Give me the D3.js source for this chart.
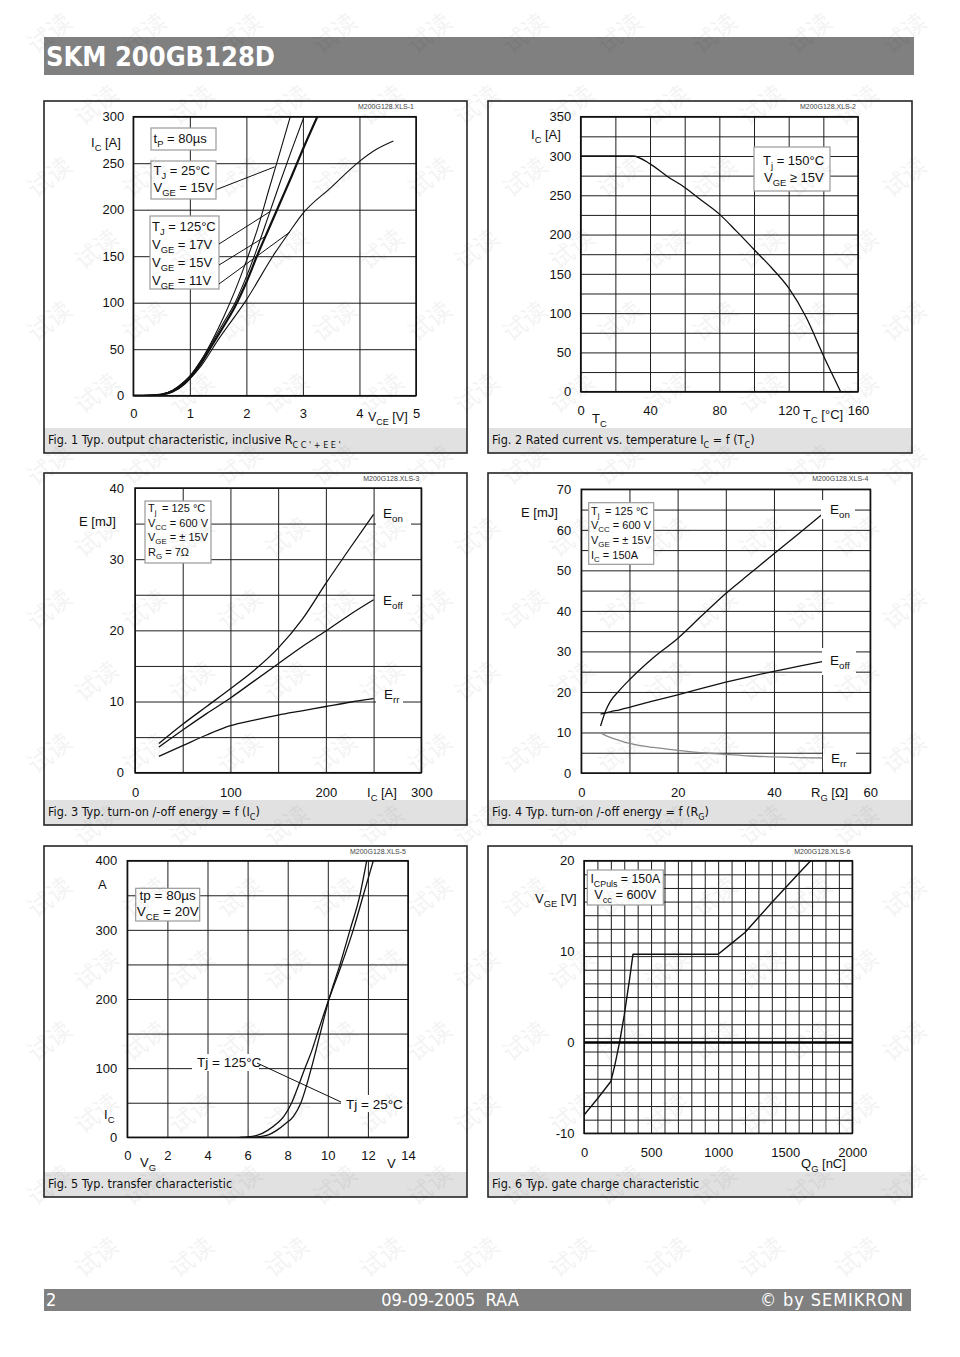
<!DOCTYPE html>
<html><head><meta charset="utf-8">
<script src="https://cdn.jsdelivr.net/npm/d3@7/dist/d3.min.js"></script>
<style>body{margin:0;background:#fff}svg{display:block}</style>
</head><body>
<svg id="page" width="960" height="1357"></svg>
<script>
// ================= DATA =================
// Fig 1: output characteristic  IC = f(VCE)
const fig1XTicks = [0, 1, 2, 3, 4, 5];
const fig1YTicks = [0, 50, 100, 150, 200, 250, 300];
const f1_vce_25_15  = [0, 0.3, 0.5, 0.7, 0.9, 1.0, 1.2, 1.4, 1.6, 1.8, 2.0, 2.2, 2.4, 2.6, 2.8];
const f1_ic_25_15   = [0, 0.3, 1.5, 6, 15, 21, 38, 60, 85, 113, 145, 180, 222, 263, 305];
const f1_vce_125_17 = [0, 0.3, 0.5, 0.7, 0.9, 1.0, 1.2, 1.4, 1.6, 1.8, 2.0, 2.2, 2.4, 2.6, 2.8, 3.05];
const f1_ic_125_17  = [0, 0.3, 1.5, 6, 15, 21, 38, 58, 79, 100, 128, 160, 195, 230, 264, 305];
const f1_vce_125_15 = [0, 0.3, 0.5, 0.7, 0.9, 1.0, 1.2, 1.4, 1.6, 1.8, 2.0, 2.2, 2.4, 2.6, 2.8, 3.0, 3.27];
const f1_ic_125_15  = [0, 0.3, 1.2, 5, 13, 19, 35, 55, 75, 96, 122, 152, 180, 208, 236, 265, 302];
const f1_vce_125_11 = [0, 0.3, 0.5, 0.7, 0.9, 1.0, 1.2, 1.5, 2.0, 2.5, 2.75, 3.0, 3.5, 4.0, 4.3, 4.6];
const f1_ic_125_11  = [0, 0.2, 1, 4, 12, 18, 32, 60, 103, 153, 175, 196, 224, 252, 265, 274];

// Fig 2: rated current vs case temperature
const fig2XTicks = [0, 40, 80, 120, 160];
const fig2YTicks = [0, 50, 100, 150, 200, 250, 300, 350];
const f2_tc = [0, 30, 40, 50, 60, 70, 80, 90, 100, 110, 120, 130, 140, 150];
const f2_ic = [300, 300, 290, 274, 260, 243, 226, 204, 181, 158, 132, 95, 46, 0];

// Fig 3: switching energy vs IC
const fig3XTicks = [0, 100, 200, 300];
const fig3YTicks = [0, 10, 20, 30, 40];
const f3_ic   = [25, 50, 75, 100, 125, 150, 175, 200, 225, 250];
const f3_eon  = [4.1, 6.8, 9.3, 11.8, 14.4, 17.5, 21.5, 26.6, 31.5, 36.3];
const f3_eoff = [3.6, 6.0, 8.3, 10.5, 12.9, 15.3, 17.7, 19.9, 22.2, 24.3];
const f3_err  = [2.3, 3.8, 5.3, 6.6, 7.4, 8.1, 8.7, 9.3, 9.9, 10.4];

// Fig 4: switching energy vs RG
const fig4XTicks = [0, 20, 40, 60];
const fig4YTicks = [0, 10, 20, 30, 40, 50, 60, 70];
const f4_rg   = [4, 5, 6, 8, 10, 15, 20, 25, 30, 35, 40, 45, 50];
const f4_eon  = [11.6, 15.2, 17.6, 20.5, 23.0, 28.5, 33.2, 38.8, 44.3, 49.2, 54.1, 58.9, 63.8];
const f4_eoff = [14.5, 14.8, 15.1, 15.6, 16.2, 17.8, 19.3, 20.9, 22.4, 23.8, 25.1, 26.3, 27.5];
const f4_err  = [9.9, 9.3, 8.8, 8.0, 7.3, 6.3, 5.6, 5.0, 4.6, 4.2, 4.0, 3.8, 3.7];

// Fig 5: transfer characteristic
const fig5XTicks = [0, 2, 4, 6, 8, 10, 12, 14];
const fig5YTicks = [0, 100, 200, 300, 400];
const f5_vg_125 = [5.6, 6.0, 6.5, 7.0, 7.5, 7.8, 8.2, 8.5, 8.86, 9.2, 9.48, 10.06, 10.69, 11.27, 11.77, 12.27];
const f5_ic_125 = [0, 0.5, 3, 10, 21, 30, 50, 72, 100, 125, 150, 200, 250, 300, 350, 400];
const f5_vg_25  = [6.0, 6.5, 7.0, 7.45, 7.9, 8.28, 8.66, 9.18, 9.62, 10.06, 10.61, 11.11, 11.6, 11.94];
const f5_ic_25  = [0, 0.5, 3, 10, 20, 30, 50, 100, 150, 200, 250, 300, 350, 400];

// Fig 6: gate charge
const fig6XTicks = [0, 500, 1000, 1500, 2000];
const fig6YTicks = [-10, 0, 10, 20];
const f6_qg  = [0, 100, 200, 230, 265, 300, 340, 365, 1000, 1100, 1200, 1300, 1400, 1500, 1600, 1690];
const f6_vge = [-8, -6.2, -4.3, -2.5, 0, 3, 7, 9.7, 9.7, 10.9, 12.1, 13.75, 15.4, 17.0, 18.6, 20];

// ================= DRAWING =================
const SANS = "'Liberation Sans', Arial, sans-serif";
const COND = "'DejaVu Sans Condensed', 'DejaVu Sans', sans-serif";
const svg = d3.select('#page');
const plainFmt = d => String(d);

function rich(g, x, y, str, o = {}) {
  const size = o.size || 13;
  const t = g.append('text').attr('x', x).attr('y', y)
    .attr('font-size', size).attr('font-family', o.font || SANS)
    .attr('fill', o.fill || '#111').attr('text-anchor', o.anchor || 'start');
  if (o.weight) t.attr('font-weight', o.weight);
  if (o.ls != null) t.attr('letter-spacing', o.ls);
  const tokens = str.split(/(_\{[^}]*\})/).filter(s => s.length);
  let down = 0; const sh = size * 0.3;
  tokens.forEach(tok => {
    if (tok.startsWith('_{')) {
      t.append('tspan').attr('dy', sh - down).attr('font-size', size * 0.72).text(tok.slice(2, -1));
      down = sh;
    } else {
      t.append('tspan').attr('dy', -down).text(tok);
      down = 0;
    }
  });
  return t;
}

let clipId = 0;
function chart(c) {
  const g = svg.append('g');
  const [bx, by, bw, bh] = c.box;
  const [px0, px1, py0, py1] = c.plot;
  g.append('rect').attr('x', bx).attr('y', by).attr('width', bw).attr('height', bh).attr('fill', '#fff');
  g.append('rect').attr('x', bx).attr('y', c.capTop).attr('width', bw).attr('height', by + bh - c.capTop).attr('fill', '#e1e1e1');
  const grid = g.append('g'), mid = g.append('g'), top = g.append('g');
  const x = d3.scaleLinear().domain(c.xDomain).range([px0, px1]);
  const y = d3.scaleLinear().domain(c.yDomain).range([py1, py0]);
  const W = px1 - px0, H = py1 - py0;
  const gx = grid.append('g').attr('transform', `translate(0,${py1})`)
    .call(d3.axisBottom(x).tickValues(c.gridX).tickSize(-H).tickFormat(''));
  const gy = grid.append('g').attr('transform', `translate(${px0},0)`)
    .call(d3.axisLeft(y).tickValues(c.gridY).tickSize(-W).tickFormat(''));
  [gx, gy].forEach(a => {
    a.select('.domain').remove();
    a.selectAll('line').attr('stroke', '#1e1e1e').attr('stroke-width', 1);
  });
  const id = 'clip' + (clipId++);
  svg.append('clipPath').attr('id', id).append('rect').attr('x', px0).attr('y', py0).attr('width', W).attr('height', H);
  const curves = mid.append('g').attr('clip-path', `url(#${id})`);
  top.append('rect').attr('x', px0).attr('y', py0).attr('width', W).attr('height', H)
    .attr('fill', 'none').attr('stroke', '#111').attr('stroke-width', 1.5);
  const tx = top.append('g').attr('transform', `translate(0,${py1})`)
    .call(d3.axisBottom(x).tickValues(c.tickX).tickSize(0).tickPadding(c.padX).tickFormat(plainFmt));
  const ty = top.append('g').attr('transform', `translate(${px0},0)`)
    .call(d3.axisLeft(y).tickValues(c.tickY).tickSize(0).tickPadding(c.padY).tickFormat(plainFmt));
  [tx, ty].forEach(a => {
    a.select('.domain').remove();
    a.selectAll('text').attr('font-family', SANS).attr('font-size', 13).attr('fill', '#111');
  });
  top.append('rect').attr('x', bx).attr('y', by).attr('width', bw).attr('height', bh)
    .attr('fill', 'none').attr('stroke', '#262626').attr('stroke-width', 1.6);
  top.append('text').attr('x', px1 - 2).attr('y', by + 7.5).attr('text-anchor', 'end')
    .attr('font-family', SANS).attr('font-size', 7).attr('fill', '#444').text(c.code);
  rich(top, bx + 4, c.capBase, c.caption, { size: 12.5, font: COND, fill: '#111', ls: 0 });
  return { g, grid, mid, top, curves, x, y };
}

function line(ch, xs, ys, curve, stroke, width) {
  const pts = d3.zip(xs, ys);
  ch.curves.append('path').datum(pts)
    .attr('d', d3.line().x(d => ch.x(d[0])).y(d => ch.y(d[1])).curve(curve))
    .attr('fill', 'none').attr('stroke', stroke).attr('stroke-width', width)
    .attr('stroke-linejoin', 'round');
}
function legendBox(layer, x, y, w, h) {
  layer.append('rect').attr('x', x).attr('y', y).attr('width', w).attr('height', h)
    .attr('fill', '#fff').attr('stroke', '#9a9a9a').attr('stroke-width', 1.2);
}
function whiteRect(layer, x, y, w, h) {
  layer.append('rect').attr('x', x).attr('y', y).attr('width', w).attr('height', h).attr('fill', '#fff');
}
function leader(layer, x1, y1, x2, y2) {
  layer.append('line').attr('x1', x1).attr('y1', y1).attr('x2', x2).attr('y2', y2)
    .attr('stroke', '#111').attr('stroke-width', 1);
}

// ---------- Header / footer ----------
svg.append('rect').attr('x', 44).attr('y', 37).attr('width', 870).attr('height', 38).attr('fill', '#808080');
svg.append('text').attr('x', 46).attr('y', 66).attr('font-family', COND).attr('font-weight', 'bold')
  .attr('font-size', 27).attr('fill', '#fff').text('SKM 200GB128D');
svg.append('rect').attr('x', 44).attr('y', 1289).attr('width', 867).attr('height', 22).attr('fill', '#808080');
svg.append('text').attr('x', 46).attr('y', 1306).attr('font-family', COND).attr('font-size', 18).attr('fill', '#fff').text('2');
svg.append('text').attr('x', 450).attr('y', 1306).attr('font-family', COND).attr('font-size', 18).attr('fill', '#fff')
  .attr('text-anchor', 'middle').attr('xml:space', 'preserve').text('09-09-2005  RAA');
svg.append('text').attr('x', 904).attr('y', 1306).attr('font-family', COND).attr('font-size', 18).attr('fill', '#fff')
  .attr('text-anchor', 'end').attr('letter-spacing', 0.9).text('© by SEMIKRON');

// ---------- Fig 1 ----------
const c1 = chart({
  box: [44, 101, 423, 352], plot: [133.3, 416, 116.7, 395.7], capTop: 428, capBase: 444,
  xDomain: [0, 5], yDomain: [0, 300], gridX: fig1XTicks, gridY: fig1YTicks,
  tickX: fig1XTicks, tickY: fig1YTicks, padX: 13, padY: 9,
  code: 'M200G128.XLS-1', caption: "Fig. 1 Typ. output characteristic, inclusive R_{C C ' + E E '}"
});
line(c1, f1_vce_25_15, f1_ic_25_15, d3.curveMonotoneX, '#111', 1.1);
line(c1, f1_vce_125_17, f1_ic_125_17, d3.curveMonotoneX, '#111', 1.1);
line(c1, f1_vce_125_15, f1_ic_125_15, d3.curveMonotoneX, '#111', 2.2);
line(c1, f1_vce_125_11, f1_ic_125_11, d3.curveMonotoneX, '#111', 1.1);
legendBox(c1.mid, 151, 128, 65, 22);
legendBox(c1.mid, 151, 161, 65, 38);
legendBox(c1.mid, 150, 216, 69, 73);
rich(c1.mid, 153.5, 143, 't_{P} = 80µs');
rich(c1.mid, 153.5, 175, 'T_{J} = 25°C');
rich(c1.mid, 153.5, 192, 'V_{GE} = 15V');
rich(c1.mid, 152, 231, 'T_{J} = 125°C');
rich(c1.mid, 152, 249, 'V_{GE} = 17V');
rich(c1.mid, 152, 267, 'V_{GE} = 15V');
rich(c1.mid, 152, 285, 'V_{GE} = 11V');
leader(c1.mid, 216.5, 189.5, c1.x(2.5), c1.y(246));
leader(c1.mid, 219, 244, c1.x(2.42), c1.y(198));
leader(c1.mid, 219, 265, c1.x(2.33), c1.y(171));
leader(c1.mid, 219, 284, c1.x(2.77), c1.y(176));
rich(c1.top, 91, 147, 'I_{C} [A]');
rich(c1.top, 368, 421, 'V_{CE} [V]', { size: 12.5 });

// ---------- Fig 2 ----------
const c2 = chart({
  box: [488, 101, 424, 352], plot: [580.7, 858, 116.7, 391.7], capTop: 428, capBase: 444,
  xDomain: [0, 160], yDomain: [0, 350], gridX: d3.range(0, 161, 20), gridY: d3.range(0, 351, 25),
  tickX: fig2XTicks, tickY: fig2YTicks, padX: 14, padY: 9.5,
  code: 'M200G128.XLS-2', caption: 'Fig. 2 Rated current vs. temperature I_{C} = f (T_{C})'
});
line(c2, f2_tc, f2_ic, d3.curveMonotoneX, '#111', 1.3);
legendBox(c2.mid, 754, 147, 76, 44);
rich(c2.mid, 763, 165, 'T_{j} = 150°C');
rich(c2.mid, 764, 182, 'V_{GE} ≥ 15V');
rich(c2.top, 531, 139, 'I_{C} [A]');
rich(c2.top, 592, 423, 'T_{C}');
rich(c2.top, 803, 419, 'T_{C} [°C]');

// ---------- Fig 3 ----------
const c3 = chart({
  box: [44, 473, 423, 352], plot: [135, 421.3, 488, 772.7], capTop: 800, capBase: 816,
  xDomain: [0, 300], yDomain: [0, 40], gridX: d3.range(0, 301, 50), gridY: d3.range(0, 41, 5),
  tickX: fig3XTicks, tickY: fig3YTicks, padX: 15, padY: 11,
  code: 'M200G128.XLS-3', caption: 'Fig. 3 Typ. turn-on /-off energy = f (I_{C})'
});
whiteRect(c3.mid, 376, 505, 35, 21);
whiteRect(c3.mid, 375, 592, 37, 19);
whiteRect(c3.mid, 376, 686, 27, 19);
line(c3, f3_ic, f3_eon, d3.curveMonotoneX, '#111', 1.3);
line(c3, f3_ic, f3_eoff, d3.curveMonotoneX, '#111', 1.3);
line(c3, f3_ic, f3_err, d3.curveMonotoneX, '#111', 1.3);
legendBox(c3.mid, 145, 501, 66, 62);
[['T_{j}', '= 125 °C', 512], ['V_{CC} = 600 V', null, 527], ['V_{GE} = ± 15V', null, 541], ['R_{G} = 7Ω', null, 556]]
  .forEach(([a, b, yy]) => { rich(c3.mid, 148, yy, a, { size: 11 }); if (b) rich(c3.mid, 162, yy, b, { size: 11 }); });
rich(c3.top, 383, 518, 'E_{on}', { size: 13.5 });
rich(c3.top, 383, 605, 'E_{off}', { size: 13.5 });
rich(c3.top, 384, 699, 'E_{rr}', { size: 13.5 });
rich(c3.top, 79, 526, 'E [mJ]');
rich(c3.top, 367, 797, 'I_{C} [A]');

// ---------- Fig 4 ----------
const c4 = chart({
  box: [488, 473, 424, 352], plot: [581.3, 870.3, 489.3, 773], capTop: 800, capBase: 816,
  xDomain: [0, 60], yDomain: [0, 70], gridX: d3.range(0, 61, 10), gridY: d3.range(0, 71, 5),
  tickX: fig4XTicks, tickY: fig4YTicks, padX: 15, padY: 10,
  code: 'M200G128.XLS-4', caption: 'Fig. 4 Typ. turn-on /-off energy = f (R_{G})'
});
whiteRect(c4.mid, 821, 500, 34, 19);
whiteRect(c4.mid, 822, 648, 34, 27);
whiteRect(c4.mid, 823, 749, 33, 20);
line(c4, f4_rg, f4_eon, d3.curveMonotoneX, '#111', 1.3);
line(c4, f4_rg, f4_eoff, d3.curveMonotoneX, '#111', 1.3);
line(c4, f4_rg, f4_err, d3.curveMonotoneX, '#8a8a8a', 1.3);
legendBox(c4.mid, 588.7, 502.7, 65, 61.6);
[['T_{j}', '= 125 °C', 514.5], ['V_{CC} = 600 V', null, 529], ['V_{GE} = ± 15V', null, 543.5], ['I_{C} = 150A', null, 558.5]]
  .forEach(([a, b, yy]) => { rich(c4.mid, 591, yy, a, { size: 11 }); if (b) rich(c4.mid, 605, yy, b, { size: 11 }); });
rich(c4.top, 830, 514, 'E_{on}', { size: 13.5 });
rich(c4.top, 830, 665, 'E_{off}', { size: 13.5 });
rich(c4.top, 831, 763, 'E_{rr}', { size: 13.5 });
rich(c4.top, 521, 517, 'E [mJ]');
rich(c4.top, 811, 797, 'R_{G} [Ω]');

// ---------- Fig 5 ----------
const c5 = chart({
  box: [44, 846, 423, 351], plot: [127.3, 408, 860.7, 1137.3], capTop: 1172, capBase: 1188,
  xDomain: [0, 14], yDomain: [0, 400], gridX: d3.range(0, 15, 2), gridY: d3.range(0, 401, 50),
  tickX: fig5XTicks, tickY: fig5YTicks, padX: 13.5, padY: 10,
  code: 'M200G128.XLS-5', caption: 'Fig. 5 Typ. transfer characteristic'
});
whiteRect(c5.mid, 192, 1054, 67, 17);
whiteRect(c5.mid, 341, 1095, 66, 17);
line(c5, f5_vg_125, f5_ic_125, d3.curveMonotoneX, '#111', 1.3);
line(c5, f5_vg_25, f5_ic_25, d3.curveMonotoneX, '#111', 1.3);
legendBox(c5.mid, 135.7, 888.3, 64, 32.7);
rich(c5.mid, 167.7, 899.5, 'tp = 80µs', { anchor: 'middle', size: 13.5 });
rich(c5.mid, 167.7, 915.5, 'V_{CE} = 20V', { anchor: 'middle', size: 13.5 });
rich(c5.top, 197, 1067, 'Tj = 125°C', { size: 13.5 });
rich(c5.top, 346, 1109, 'Tj = 25°C', { size: 13.5 });
leader(c5.top, 257, 1063, 341, 1102);
rich(c5.top, 98, 889, 'A');
rich(c5.top, 104, 1119, 'I_{C}');
rich(c5.top, 140, 1167, 'V_{G}');
rich(c5.top, 387, 1168, 'V');

// ---------- Fig 6 ----------
const c6 = chart({
  box: [488, 846, 424, 351], plot: [584, 852.3, 860.7, 1133.3], capTop: 1172, capBase: 1188,
  xDomain: [0, 2000], yDomain: [-10, 20], gridX: d3.range(0, 2001, 100), gridY: d3.range(-10, 20.01, 1.5),
  tickX: fig6XTicks, tickY: fig6YTicks, padX: 14, padY: 9.5,
  code: 'M200G128.XLS-6', caption: 'Fig. 6 Typ. gate charge characteristic'
});
c6.mid.append('line').attr('x1', c6.x(0)).attr('x2', c6.x(2000)).attr('y1', c6.y(0)).attr('y2', c6.y(0))
  .attr('stroke', '#000').attr('stroke-width', 2.6);
line(c6, f6_qg, f6_vge, d3.curveLinear, '#111', 1.4);
legendBox(c6.mid, 587.3, 870, 76, 35);
rich(c6.mid, 625.3, 883, 'I_{CPuls} = 150A', { anchor: 'middle', size: 12.3 });
rich(c6.mid, 625.3, 899, 'V_{cc} = 600V', { anchor: 'middle', size: 12.8 });
rich(c6.top, 535, 903, 'V_{GE} [V]');
rich(c6.top, 801, 1168, 'Q_{G} [nC]');

// ---------- watermark (faint, fully inside the page) ----------
const wm = svg.append('g').attr('pointer-events', 'none');
for (let r = 0; r < 19; r++) {
  for (let k = 0; k < 10; k++) {
    const wx = 55 + k * 95 + (r % 2) * 47, wy = 40 + r * 72;
    if (wx > 925 || wy > 1335) continue;
    wm.append('text').attr('transform', `translate(${wx},${wy}) rotate(-38)`)
      .attr('text-anchor', 'middle').attr('font-family', "'Noto Sans CJK SC'")
      .attr('font-size', 24).attr('fill', '#000').attr('opacity', 0.045).text('试读');
  }
}
</script>
</body></html>
